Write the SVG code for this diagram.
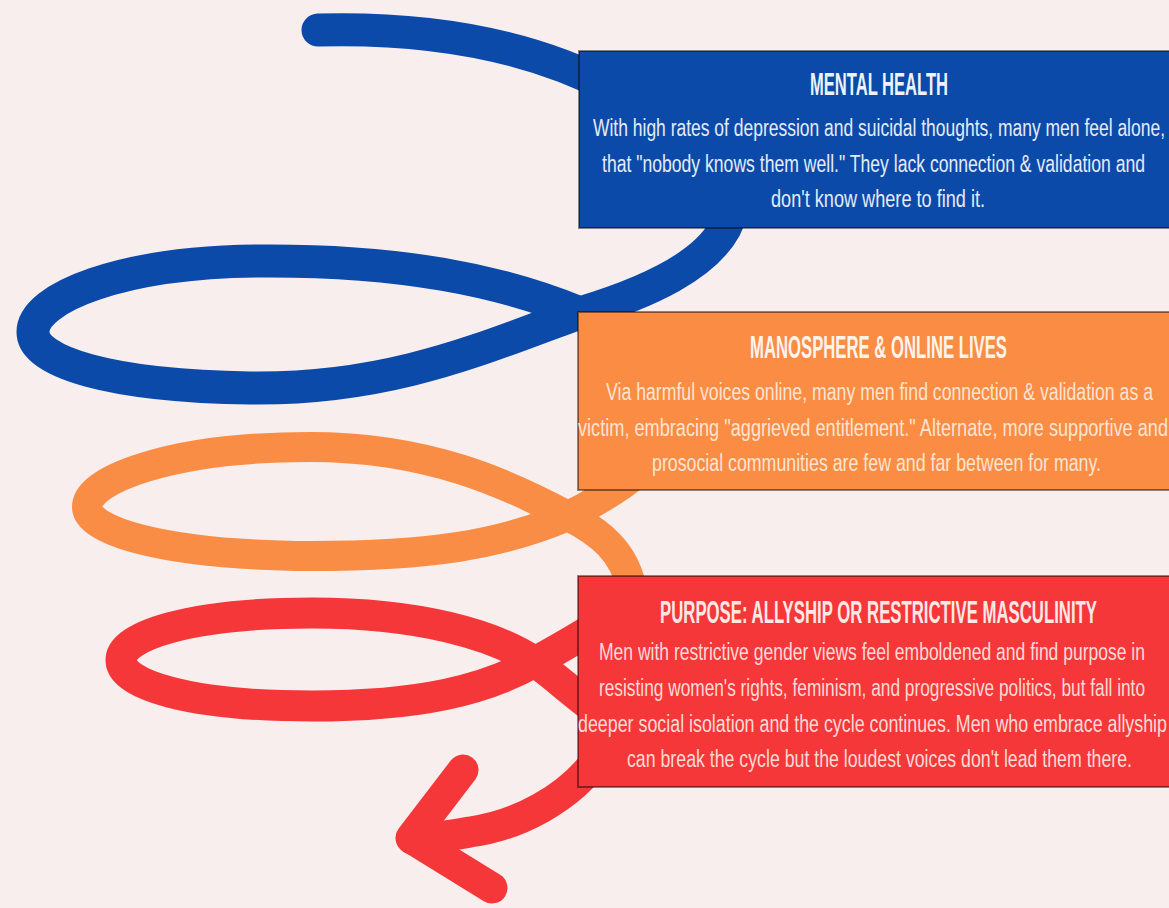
<svg xmlns="http://www.w3.org/2000/svg" width="1169" height="908" viewBox="0 0 1169 908">
<style>
.bg{fill:#f8eeed}
.line{fill:none;stroke-linecap:round;stroke-linejoin:round}
.blue{stroke:#0b4aa9;stroke-width:33}
.orange{stroke:#fa8d45;stroke-width:30}
.red{stroke:#f5373a;stroke-width:31}
.box{stroke:#000;stroke-opacity:0.45;stroke-width:2}
.title{font-family:"Liberation Sans",Arial,sans-serif;font-weight:bold;font-size:16.5px}
.body{font-family:"Liberation Sans",Arial,sans-serif;font-size:17.5px}
</style>
<rect class="bg" x="0" y="0" width="1169" height="908"/>
<g id="connectors">
<path class="line blue" d="M318,30 C430,27 530,45 612,88 C700,130 745,190 725,228 C705,265 650,292 580,313 C500,340 400,390 250,388 C110,386 33,362 33,332 C33,298 120,262 260,261 C400,260 500,280 580,313 C600,321 615,330 640,345"/>
<path class="line orange" d="M660,450 C640,475 610,495 568,516 C500,545 430,556 310,556 C160,555 87,530 87,507 C87,480 170,447 310,447 C430,447 510,485 568,516 C600,532 625,552 632,590"/>
<path class="line red" d="M620,610 C600,625 575,640 535,662 C485,690 420,706 312,706 C190,706 121,685 121,660 C121,636 190,613 312,613 C420,613 495,635 535,662 C560,680 580,700 610,720"/>
<path class="line red" d="M600,755 C570,800 515,826 470,832 C450,836 430,838 412,839"/>
<path class="line red" d="M463,770 L411,838 L492,888"/>
</g>
<g id="node-mental-health">
<rect class="box" x="579" y="51" width="600" height="177" fill="#0b4aa9"/>
<text class="title" transform="translate(810,95) scale(1,1.94)" textLength="138" lengthAdjust="spacingAndGlyphs" fill="#eef2fb">MENTAL HEALTH</text>
<g class="body" fill="#e4ebf8">
<text transform="translate(593,136) scale(1,1.37)" textLength="572" lengthAdjust="spacingAndGlyphs">With high rates of depression and suicidal thoughts, many men feel alone,</text>
<text transform="translate(602,172) scale(1,1.37)" textLength="543" lengthAdjust="spacingAndGlyphs">that "nobody knows them well." They lack connection &amp; validation and</text>
<text transform="translate(771,207) scale(1,1.37)" textLength="214" lengthAdjust="spacingAndGlyphs">don't know where to find it.</text>
</g>
</g>
<g id="node-manosphere">
<rect class="box" x="578" y="312" width="600" height="178" fill="#fa8c44"/>
<text class="title" transform="translate(750,358) scale(1,1.94)" textLength="257" lengthAdjust="spacingAndGlyphs" fill="#fff4ec">MANOSPHERE &amp; ONLINE LIVES</text>
<g class="body" fill="#fde4d2">
<text transform="translate(606,400) scale(1,1.37)" textLength="547" lengthAdjust="spacingAndGlyphs">Via harmful voices online, many men find connection &amp; validation as a</text>
<text transform="translate(578,436) scale(1,1.37)" textLength="590" lengthAdjust="spacingAndGlyphs">victim, embracing "aggrieved entitlement." Alternate, more supportive and</text>
<text transform="translate(652,471) scale(1,1.37)" textLength="449" lengthAdjust="spacingAndGlyphs">prosocial communities are few and far between for many.</text>
</g>
</g>
<g id="node-purpose">
<rect class="box" x="578" y="576" width="600" height="211" fill="#f5373a"/>
<text class="title" transform="translate(660,623) scale(1,1.94)" textLength="437" lengthAdjust="spacingAndGlyphs" fill="#fde8e5">PURPOSE: ALLYSHIP OR RESTRICTIVE MASCULINITY</text>
<g class="body" fill="#fcdad5">
<text transform="translate(599,660) scale(1,1.37)" textLength="546" lengthAdjust="spacingAndGlyphs">Men with restrictive gender views feel emboldened and find purpose in</text>
<text transform="translate(599,696) scale(1,1.37)" textLength="546" lengthAdjust="spacingAndGlyphs">resisting women's rights, feminism, and progressive politics, but fall into</text>
<text transform="translate(578,732) scale(1,1.37)" textLength="589" lengthAdjust="spacingAndGlyphs">deeper social isolation and the cycle continues. Men who embrace allyship</text>
<text transform="translate(627,767) scale(1,1.37)" textLength="505" lengthAdjust="spacingAndGlyphs">can break the cycle but the loudest voices don't lead them there.</text>
</g>
</g>
</svg>
